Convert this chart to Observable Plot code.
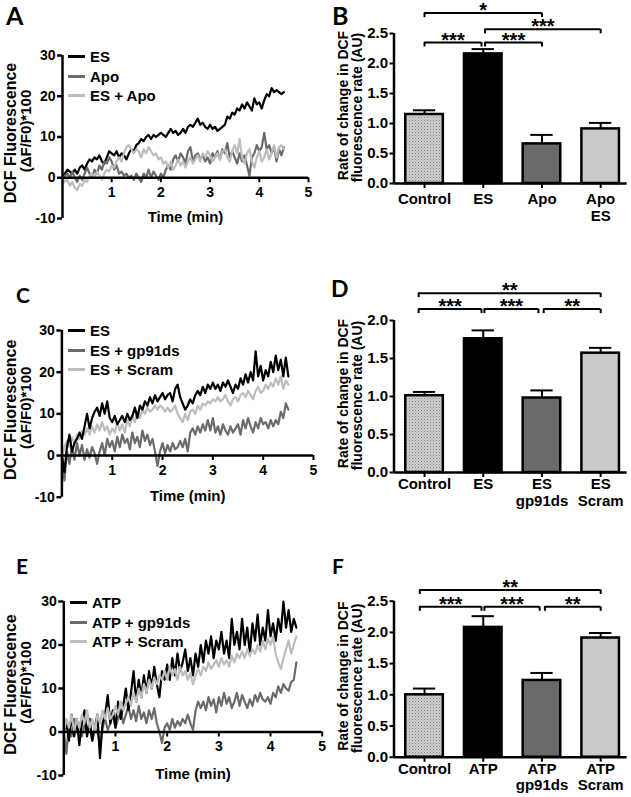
<!DOCTYPE html>
<html><head><meta charset="utf-8">
<script src="https://cdn.jsdelivr.net/npm/d3@7"></script>
<script src="https://cdn.jsdelivr.net/npm/@observablehq/plot@0.6"></script>
<style>
body{margin:0;background:#fff;}
#fig{position:relative;width:631px;height:797px;overflow:hidden;font-family:"Liberation Sans",Arial,sans-serif;}
.panel{position:absolute;}
.letter{position:absolute;font-family:Lato,"Open Sans",sans-serif;font-weight:bold;line-height:1.1;color:#000;}
.legend{position:absolute;font-family:"Liberation Sans",Arial,sans-serif;font-weight:bold;font-size:15px;color:#000;}
.legend .row{height:19.5px;display:flex;align-items:center;white-space:nowrap;}
.legend .sw{display:inline-block;width:17px;height:3px;margin-right:5px;}
</style></head><body>
<svg width="0" height="0" style="position:absolute"><defs>
<pattern id="hatch" width="3" height="3" patternUnits="userSpaceOnUse"><rect width="3" height="3" fill="#d2d2d2"/><rect width="1" height="1" fill="#7c7c7c"/><rect x="1.5" y="1.5" width="1" height="1" fill="#969696"/></pattern>
</defs></svg>
<div id="fig"></div>
<script>
// ---------- data ----------
const timeStep = 0.05; // min between samples
const lineXDomain = [0, 5];
const lineYDomain = [-10, 30];
const lineXTicks = [1, 2, 3, 4, 5];
const lineYTicks = [-10, 0, 10, 20, 30];
const colBlack = "#000000", colDark = "#6b6b6b", colLight = "#bdbdbd";

// Panel A
const A_ES = [0,1,2,1.5,1,2,1,2.5,3,2,3.5,4.5,4,5,4.5,5.5,4,3.5,5,6.5,6,5.5,6.5,5,6,5.5,4.5,6,7,6.5,8,8.5,9.5,9,10,10.5,9.5,10.5,10,10.5,11,10.5,10,11,12,11,11.5,10.5,11,12,11,12.5,13,12.5,13.5,14.5,13,13.5,12.5,12,13,12,12.5,11.5,12,12.5,13,15,14.5,16,15.5,17,16.5,18,17,18.5,17.5,16.5,19.5,18,18.5,17,19,20.5,20,22,21,21.5,21,20.5,21];
const A_Apo = [0,0.5,1,0,1.5,0,-1,0.5,-0.5,1,2.5,1,0,2,1,3,2,4,3.5,5,4,2,3,1,1.5,0.5,1,0,0.5,-0.5,1,0,-1,1,0,2,0,1.5,0.5,-0.5,1,0,2,3,2,4.5,5.5,4,6,5,3.5,6.5,7.5,4,5.5,6,4.5,5.5,4,5,3.5,6,5,6.5,4.5,7,6,8.5,5,6.5,5,3.5,6,4,5.5,3,0.5,5,6,8,6.5,7.5,11,7,8,6,7.5,4,7,5.5,7.5];
const A_ESApo = [0,-1,-0.5,-2,-1,-2.5,-3,-1.5,-2,-0.5,-1,0.5,1,0,1.5,0.5,-0.5,1,2,1.5,3,2.5,4,5,4,6,7.5,8,7,6,7,6.5,5,7,6,7.5,6.5,5.5,6,4.5,5,3.5,4,2.5,4,2,3,4.5,3,4,2.5,4,5,3.5,4.5,5.5,4,6,5,6.5,5.5,4,5,6,4.5,6.5,7,5,4,6.5,8,6,9.5,5,3.5,6,7,4,2.5,5,6.5,4,5,7,4.5,6,8,5,7.5,8,7];

// Panel C
const C_ES = [0,-4,2,5,1,3,4,5.5,4,7,10,6.5,9,10.5,11.5,9.5,12.5,10,13,9,8,9.5,7.5,8.5,9.5,8,10,8.5,9.5,11.5,9,12,11,13,12,14,12.5,14.5,13,14,15,13.5,14.5,15,13,16,17,14,12.5,11,12,13.5,12.5,14.5,15.5,14.5,16.5,15,17,16,17.5,16,17,15.5,17.5,16.5,18,16.5,15,17,16,18.5,17,19.5,17.5,20,18,25,19,21.5,18,20.5,19,22.5,20,24,20.5,23,19,23.5,19];
const C_gp = [0,-6,1,-2,2,-1,3,0,2.5,-1,1.5,-0.5,2,0.5,-2,1,3,0,4,2,3.5,1,4.5,2,5,3,4,1.5,5.5,3,4.5,2,6,3.5,5,2.5,4,1,-2.5,1,3,0.5,2.5,1,3,1.5,2,3.5,2,4,1,5.5,6.5,5,7,5.5,7.5,6,8.5,6,9,5.5,7,5,7.5,6,5,7,5.5,6.5,7.5,5,8.5,6.5,9,7,5.5,8,6.5,9,7.5,8,6.5,8.5,7,8.5,7.5,10.5,9,12.5,11];
const C_Scram = [0,2,3.5,2,4.5,3,5,4,6,5,6.5,5,7,5.5,7.5,6,8,6,7,5,6.5,5.5,8,6,7.5,5.5,8.5,7,9.5,8,10.5,9,11,10,11.5,10.5,11,12,11,12,11.5,10.5,11.5,10.5,11,12,10,9,8,10,8.5,10.5,11,10,12,11,12.5,12,13,12.5,13.5,13,14,13,13.5,14.5,13,12,13.5,14,13,14.5,15,14,15.5,14.5,13.5,15.5,16.5,15,15.5,17,16,17.5,16.5,18.5,17,19,16,18,17];

// Panel E
const E_ATP = [0,2,-2,4,-1,3,-3,2,5,-1,3,-2,1,4,-6,2,4,8.5,2,5,1,7,3,6,10,5,9,14,7,12,8,13,9,14,10,15,11,8,14,12,15.5,12,17,13,18,14,16,19,14,17,13,18,15,20,16,21,18,22,17,21,19,23,18,21,17,26,20,23,19,26,20,24,18,25,21,27,20,24,21,28,22,25,21,26,23,30,24,28,23,26,24];
const E_gp = [0,-5,2,-1,3,0,2,-1,1.5,0,2,-2,1,0,-3,1,3,0.5,2,4,1,3,5,2,4,6,3,5,2.5,6,3,4.5,2,5,3,5.5,2,0,-2.5,1,2,0.5,3,1,2.5,1.5,3,2,4,2,0.5,5,7,5.5,7,5,8,6,7.5,4.5,8,6,9,6.5,8,5.5,7,9,6,8.5,7,5.5,7.5,6,8.5,7,9,7.5,7,8,6.5,9,8,10.5,9,11,10,9.5,11.5,12,16];
const E_Scram = [0,3,1,4,0,3,1,4,2,5,1,3,0,4,2,5,3,5.5,3,4,6,4,7,5,6.5,8,6,9,7,10,8,11,9,12,10,12.5,11,13,12,14,12,15,13,14.5,12,15,13,14,12,13.5,11,13,14.5,13,15,14,16,14.5,15.5,16.5,15,17,15.5,16.5,15,17.5,16,18,17,18.5,17,19,17.5,19,18,20,18.5,21,19,21.5,20,22,18,16,14.5,17,19,21,18,20,22];

// Bar panels
const barXDomain = [-0.52, 3.45];
const barYTicks25 = [0, 0.5, 1.0, 1.5, 2.0, 2.5];
const barYTicks20 = [0, 0.5, 1.0, 1.5, 2.0];
const barFills = ["url(#hatch)", "#000000", "#6a6a6a", "#c9c9c9"];

const B_cats = ["Control", "ES", "Apo", "Apo\nES"];
const B_means = [1.15, 2.16, 0.66, 0.91];
const B_tops = [1.22, 2.24, 0.81, 1.01];
const B_sig = [
  {a: 0, b: 0.97, h: 2.35, s: "***"},
  {a: 1.03, b: 2, h: 2.35, s: "***"},
  {a: 1.03, b: 3, h: 2.57, s: "***"},
  {a: 0, b: 2, h: 2.84, s: "*"}
];

const D_cats = ["Control", "ES", "ES\ngp91ds", "ES\nScram"];
const D_means = [1.01, 1.76, 0.98, 1.57];
const D_tops = [1.06, 1.87, 1.08, 1.64];
const D_sig = [
  {a: -0.1, b: 0.97, h: 2.15, s: "***"},
  {a: 1.02, b: 1.94, h: 2.15, s: "***"},
  {a: 2.03, b: 3, h: 2.15, s: "**"},
  {a: -0.1, b: 3, h: 2.36, s: "**"}
];

const F_cats = ["Control", "ATP", "ATP\ngp91ds", "ATP\nScram"];
const F_means = [1.0, 2.08, 1.23, 1.91];
const F_tops = [1.10, 2.26, 1.35, 1.99];
const F_sig = [
  {a: -0.08, b: 0.97, h: 2.41, s: "***"},
  {a: 1.02, b: 1.96, h: 2.41, s: "***"},
  {a: 2.05, b: 3, h: 2.41, s: "**"},
  {a: -0.08, b: 3, h: 2.68, s: "**"}
];

// ---------- rendering ----------
const fig = document.getElementById("fig");
const baseStyle = {background: "transparent", overflow: "visible", fontFamily: "'Liberation Sans', Arial, sans-serif", fontWeight: "bold", fontSize: "14px", color: "#000"};

function place(node, left, top) {
  const d = document.createElement("div");
  d.className = "panel";
  d.style.left = left + "px"; d.style.top = top + "px";
  d.appendChild(node);
  fig.appendChild(d);
}

function linePanel(cfg) {
  const innerH = cfg.height - cfg.mt - cfg.mb;
  const tk = 5 * (lineYDomain[1] - lineYDomain[0]) / innerH;
  const lineMarks = cfg.series.map(s => Plot.line(s.values.map((v, i) => ({t: i * timeStep, v})), {x: "t", y: "v", stroke: s.color, strokeWidth: 2.2, strokeLinejoin: "round"}));
  const p = Plot.plot({
    width: cfg.width, height: cfg.height,
    marginLeft: cfg.ml, marginRight: cfg.mr, marginTop: cfg.mt, marginBottom: cfg.mb,
    style: baseStyle,
    x: {domain: lineXDomain, axis: null},
    y: {domain: lineYDomain, axis: null},
    marks: [
      ...lineMarks,
      Plot.axisY({ticks: lineYTicks, tickFormat: d => String(d), tickSize: 5, tickPadding: 2, strokeWidth: 2.5, label: null, fontSize: 14, fill: "#000"}),
      Plot.ruleX([lineXDomain[0]], {strokeWidth: 2.5}),
      Plot.ruleY([0], {strokeWidth: 2.5}),
      Plot.ruleX(lineXTicks, {x: d => d, y1: 0, y2: -tk, strokeWidth: 2}),
      Plot.text(lineXTicks, {x: d => d, y: 0, dy: 15, text: d => String(d), fontSize: 14, fill: "#000"}),
      Plot.text(["Time (min)"], {frameAnchor: "bottom", lineAnchor: "middle", textAnchor: "middle", dy: -1, fontSize: 15, fill: "#000"}),
      Plot.text([cfg.ylab1], {frameAnchor: "left", textAnchor: "middle", lineAnchor: "middle", rotate: -90, dx: 10 - cfg.ml, dy: -4, fontSize: 16, fill: "#000"}),
      Plot.text([cfg.ylab2], {frameAnchor: "left", textAnchor: "middle", lineAnchor: "middle", rotate: -90, dx: 26 - cfg.ml, dy: -6, fontSize: 15, fill: "#000"})
    ]
  });
  place(p, cfg.left, cfg.top);
  const lg = document.createElement("div");
  lg.className = "legend";
  lg.style.left = cfg.legLeft + "px"; lg.style.top = cfg.legTop + "px";
  cfg.legendOrder.forEach(s => {
    const r = document.createElement("div"); r.className = "row";
    const sw = document.createElement("span"); sw.className = "sw"; sw.style.background = s.color;
    r.appendChild(sw); r.appendChild(document.createTextNode(s.name));
    lg.appendChild(r);
  });
  fig.appendChild(lg);
}

function barPanel(cfg) {
  const bars = cfg.cats.map((c, i) => ({i, label: c, mean: cfg.means[i], top: cfg.tops[i], fill: barFills[i]}));
  const innerH = cfg.height - cfg.mt - cfg.mb;
  const tk = 5 * cfg.ymax / innerH;
  const half = 0.32, cap = 0.19;
  const ends = cfg.sig.flatMap(b => [{x: b.a, h: b.h}, {x: b.b, h: b.h}]);
  const p = Plot.plot({
    width: cfg.width, height: cfg.height,
    marginLeft: cfg.ml, marginRight: cfg.mr, marginTop: cfg.mt, marginBottom: cfg.mb,
    style: baseStyle,
    x: {domain: barXDomain, axis: null},
    y: {domain: [0, cfg.ymax], axis: null},
    marks: [
      Plot.ruleX(bars, {x: "i", y1: "mean", y2: "top", strokeWidth: 2}),
      Plot.ruleY(bars, {y: "top", x1: d => d.i - cap, x2: d => d.i + cap, strokeWidth: 2}),
      ...bars.map(b => Plot.rectY([b], {x1: d => d.i - half, x2: d => d.i + half, y1: 0, y2: "mean", fill: b.fill, stroke: "#000", strokeWidth: 2.5})),
      Plot.axisY({ticks: cfg.yticks, tickFormat: d3.format(".1f"), tickSize: 4, tickPadding: 2, strokeWidth: 2, label: null, fontSize: 15, fill: "#000"}),
      Plot.ruleX([barXDomain[0]], {strokeWidth: 2.5}),
      Plot.ruleY([0], {strokeWidth: 2.5}),
      Plot.ruleX(bars, {x: "i", y1: 0, y2: -tk, strokeWidth: 2}),
      Plot.text(bars, {x: "i", y: 0, dy: cfg.labDy, lineAnchor: "top", text: "label", fontSize: 15, lineHeight: 1.1, fill: "#000"}),
      Plot.ruleY(cfg.sig, {y: "h", x1: "a", x2: "b", strokeWidth: 2}),
      Plot.ruleX(ends, {x: "x", y1: "h", y2: d => d.h - tk * 0.9, strokeWidth: 2}),
      Plot.text(cfg.sig, {x: d => (d.a + d.b) / 2, y: "h", text: "s", lineAnchor: "bottom", dy: 4, fontSize: 20, fill: "#000"}),
      Plot.text([cfg.ylab1], {frameAnchor: "left", textAnchor: "middle", lineAnchor: "middle", rotate: -90, dx: -50, dy: -3, fontSize: 14, fill: "#000"}),
      Plot.text([cfg.ylab2], {frameAnchor: "left", textAnchor: "middle", lineAnchor: "middle", rotate: -90, dx: -36, dy: -1, fontSize: 14, fill: "#000"})
    ]
  });
  place(p, cfg.left, cfg.top);
}

function letter(t, x, y, size) {
  const d = document.createElement("div");
  d.className = "letter"; d.textContent = t;
  d.style.left = x + "px"; d.style.top = y + "px"; d.style.fontSize = size + "px";
  fig.appendChild(d);
}

const ylabL1 = "DCF Fluorescence", ylabL2 = "(\u0394F/F0)*100";
const ylabB1 = "Rate of change in DCF", ylabB2 = "fluorescence rate (AU)";

const sA = [{name: "ES", values: A_ES, color: colBlack}, {name: "Apo", values: A_Apo, color: colDark}, {name: "ES + Apo", values: A_ESApo, color: colLight}];
linePanel({left: 0, top: 0, width: 315, height: 240, ml: 62, mr: 7, mt: 55, mb: 22,
  series: [sA[0], sA[1], sA[2]], legendOrder: sA, legLeft: 68, legTop: 47, ylab1: ylabL1, ylab2: ylabL2});

const sC = [{name: "ES", values: C_ES, color: colBlack}, {name: "ES + gp91ds", values: C_gp, color: colDark}, {name: "ES + Scram", values: C_Scram, color: colLight}];
linePanel({left: 0, top: 260, width: 320, height: 260, ml: 61.4, mr: 7, mt: 70, mb: 23.3,
  series: [sC[1], sC[2], sC[0]], legendOrder: sC, legLeft: 68, legTop: 321, ylab1: ylabL1, ylab2: ylabL2});

const sE = [{name: "ATP", values: E_ATP, color: colBlack}, {name: "ATP + gp91ds", values: E_gp, color: colDark}, {name: "ATP + Scram", values: E_Scram, color: colLight}];
linePanel({left: 0, top: 530, width: 330, height: 267, ml: 63.3, mr: 8.3, mt: 71, mb: 22,
  series: [sE[1], sE[0], sE[2]], legendOrder: sE, legLeft: 70, legTop: 593, ylab1: ylabL1, ylab2: ylabL2});

barPanel({left: 310, top: 0, width: 321, height: 240, ml: 83.5, mr: 4.4, mt: 33, mb: 57, ymax: 2.5, yticks: barYTicks25, labDy: 9,
  cats: B_cats, means: B_means, tops: B_tops, sig: B_sig, ylab1: ylabB1, ylab2: ylabB2});
barPanel({left: 310, top: 260, width: 321, height: 255, ml: 83.5, mr: 4.4, mt: 60, mb: 43, ymax: 2.0, yticks: barYTicks20, labDy: 5,
  cats: D_cats, means: D_means, tops: D_tops, sig: D_sig, ylab1: ylabB1, ylab2: ylabB2});
barPanel({left: 310, top: 530, width: 321, height: 267, ml: 83.5, mr: 4.4, mt: 70.7, mb: 40.3, ymax: 2.5, yticks: barYTicks25, labDy: 5,
  cats: F_cats, means: F_means, tops: F_tops, sig: F_sig, ylab1: ylabB1, ylab2: ylabB2});

letter("A", 6, 2, 25);
letter("B", 332, 2, 25);
letter("C", 16, 283, 21);
letter("D", 331, 276, 23);
letter("E", 16, 554, 21);
letter("F", 332, 554, 21);
</script>
</body></html>
